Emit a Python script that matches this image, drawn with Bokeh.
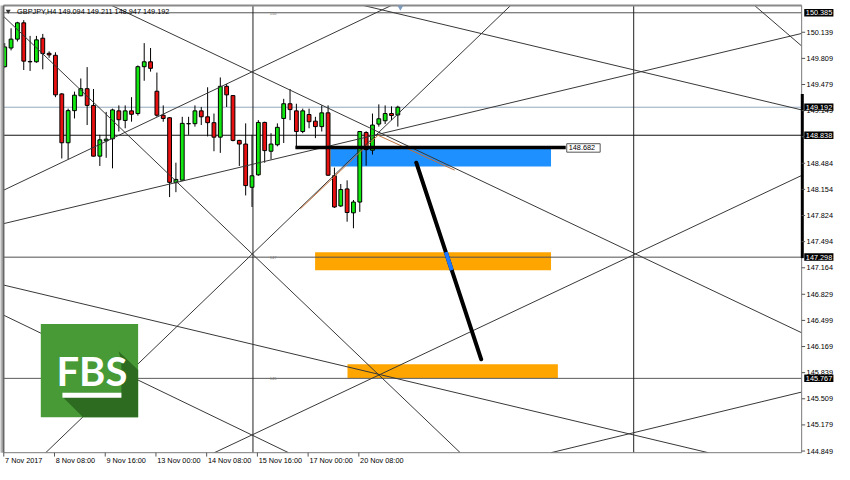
from bokeh.plotting import figure
from bokeh.models import Range1d, ColumnDataSource
from bokeh.core.properties import value
from bokeh.embed import file_html
from bokeh.resources import INLINE

# ---------------- data ----------------
opens = [149.704, 149.940, 150.052, 150.258, 149.770, 149.766, 150.064, 149.873, 149.848, 149.360,
         148.743, 149.149, 149.336, 149.426, 149.215, 148.574, 148.768, 148.793, 149.146, 149.025,
         149.146, 149.112, 149.704, 149.766, 149.394, 149.091, 149.059, 148.239, 148.271, 148.985,
         148.984, 149.146, 149.071, 148.997, 148.814, 149.456, 149.339, 148.773, 148.727, 148.181,
         148.338, 149.000, 148.636, 148.718, 149.050, 149.236, 149.146, 148.885, 149.100, 149.016,
         148.947, 149.121, 148.326, 147.945, 148.160, 147.858, 147.994, 148.872, 148.649, 148.979,
         149.021, 149.112, 149.094]
highs = [150.002, 150.189, 150.271, 150.292, 150.093, 150.093, 150.118, 149.898, 149.886, 149.370,
         149.174, 149.389, 149.555, 149.699, 149.422, 148.843, 149.133, 149.174, 149.215, 149.215,
         149.319, 149.720, 150.002, 149.940, 149.630, 149.215, 149.065, 148.491, 149.071, 149.071,
         149.215, 149.195, 149.444, 149.112, 149.568, 149.485, 149.345, 148.780, 148.988, 148.843,
         149.029, 149.009, 148.864, 148.988, 149.298, 149.422, 149.236, 149.174, 149.174, 149.071,
         149.215, 149.215, 148.429, 148.222, 148.268, 148.020, 148.885, 148.889, 149.112, 149.228,
         149.215, 149.203, 149.211]
lows = [149.692, 149.910, 150.022, 149.662, 149.650, 149.754, 149.671, 149.816, 149.319, 148.545,
        148.532, 149.050, 149.332, 148.967, 148.570, 148.450, 148.553, 148.420, 148.885, 148.926,
        149.009, 149.087, 149.526, 149.642, 149.071, 149.009, 148.057, 148.119, 148.264, 148.843,
        148.947, 148.967, 148.823, 148.636, 148.615, 149.195, 148.761, 148.450, 148.078, 147.932,
        148.326, 148.491, 148.532, 148.698, 148.740, 149.029, 148.698, 148.864, 148.926, 148.802,
        148.885, 148.326, 147.920, 147.932, 147.746, 147.663, 147.870, 148.454, 148.594, 148.947,
        148.979, 149.029, 148.947]
closes = [149.953, 150.052, 150.258, 149.774, 149.765, 150.043, 149.870, 149.853, 149.348, 148.743,
          149.149, 149.344, 149.426, 149.215, 148.574, 148.780, 148.789, 149.158, 149.034, 149.146,
          149.103, 149.704, 149.766, 149.683, 149.091, 149.050, 148.243, 148.280, 148.988, 148.983,
          149.146, 149.071, 148.997, 148.814, 149.456, 149.348, 148.773, 148.727, 148.202, 148.326,
          149.000, 148.644, 148.727, 148.938, 149.236, 149.162, 148.885, 149.146, 149.009, 148.947,
          149.121, 148.333, 147.932, 148.152, 147.862, 147.994, 148.885, 148.656, 148.967, 149.046,
          149.112, 149.087, 149.192]

time_tick_bars = [0, 8, 16, 24, 32, 40, 48, 56]
time_tick_labels = ["7 Nov 2017", "8 Nov 08:00", "9 Nov 16:00", "13 Nov 00:00",
                    "14 Nov 08:00", "15 Nov 16:00", "17 Nov 00:00", "20 Nov 08:00"]

price_ticks = [150.139, 149.809, 149.479, 149.149, 148.819, 148.484, 148.154, 147.824, 147.494,
               147.164, 146.829, 146.499, 146.169, 145.839, 145.509, 145.179, 144.849]
price_tick_labels = ["%.3f" % v for v in price_ticks]

level_prices = [150.385, 149.192, 148.838, 147.298, 145.767]
level_labels = ["150.385", "149.192", "148.838", "147.298", "145.767"]
level_colors = ["#555555", "#94a8bc", "#111111", "#505050", "#5a5a5a"]

title_text = "GBPJPY,H4  149.094 149.211 148.947 149.192"

# chart window (bar index / price)
bar_left, bar_right = -0.2, 125.69
price_top, price_bottom = 150.478, 144.828

vertical_bars = [39.15, 99.2]

# trend lines: (bar, price) -> (bar, price)
tl_x0 = [56.54, 79.80, -0.20, 16.85, 33.07, -0.20, -0.20, 86.16, 118.25, -0.20, -0.20]
tl_y0 = [150.478, 150.478, 147.721, 150.478, 144.828, 146.946, 150.341, 144.828, 150.478, 148.143, 146.566]
tl_x1 = [125.69, 6.465, 125.69, 125.69, 125.69, 110.96, 71.84, 125.69, 125.69, 60.99, 44.76]
tl_y1 = [149.158, 144.828, 150.124, 146.343, 148.330, 144.828, 144.828, 145.594, 149.965, 150.478, 144.828]

brown_x = [46.62, 58.87, 70.96]
brown_y = [147.908, 148.838, 148.397]

# zones
zone_left = [51.43, 48.95, 54.06]
zone_right = [86.16, 86.16, 87.24]
zone_top = [148.682, 147.361, 145.946]
zone_bottom = [148.442, 147.134, 145.770]
zone_colors = ["#1e90ff", "#ffa500", "#ffa500"]

target_price = 148.682
target_from, target_to = 45.84, 88.48
arrow_x = [64.91, 75.15]
arrow_y = [148.491, 146.008]

# ---------------- figure ----------------
p = figure(width=834, height=464, x_range=Range1d(-0.6667, 130.87), y_range=Range1d(144.6789, 150.5401),
           output_backend="svg", toolbar_location=None, min_border=0,
           x_axis_location=None, y_axis_location=None)
p.outline_line_color = None
p.grid.visible = False
p.background_fill_color = "white"

FONT = value("Liberation Sans")

# zones (background)
p.quad(left=zone_left, right=zone_right, top=zone_top, bottom=zone_bottom,
       fill_color=zone_colors, line_color=None)

# horizontal levels
p.segment(x0=[bar_left] * 5, x1=[bar_right] * 5, y0=level_prices, y1=level_prices,
          line_color=level_colors, line_width=1)
# vertical lines
p.segment(x0=vertical_bars, x1=vertical_bars, y0=[price_bottom] * 2, y1=[price_top] * 2,
          line_color="#222222", line_width=1)

# candles
src = ColumnDataSource(dict(
    x=list(range(len(opens))), o=opens, h=highs, l=lows, c=closes,
    top=[max(a, b) for a, b in zip(opens, closes)],
    bot=[min(a, b) for a, b in zip(opens, closes)],
    col=["#10e810" if c >= o else "#e81010" for o, c in zip(opens, closes)],
))
p.segment(x0="x", x1="x", y0="h", y1="l", source=src, line_color="black", line_width=1)
p.vbar(x="x", width=0.6, top="top", bottom="bot", source=src, fill_color="col",
       line_color="black", line_width=1)

# trend lines
p.segment(x0=tl_x0, y0=tl_y0, x1=tl_x1, y1=tl_y1, line_color="#383838", line_width=1)
p.line(brown_x, brown_y, line_color="#c0703a", line_width=1)

# target line and arrow
p.segment(x0=[target_from], x1=[target_to], y0=[target_price], y1=[target_price],
          line_color="black", line_width=3.5)
p.line(arrow_x, arrow_y, line_color="black", line_width=4, line_cap="round")
t0 = (zone_top[1] - arrow_y[0]) / (arrow_y[1] - arrow_y[0])
t1 = (zone_bottom[1] - arrow_y[0]) / (arrow_y[1] - arrow_y[0])
p.line([arrow_x[0] + t0 * (arrow_x[1] - arrow_x[0]), arrow_x[0] + t1 * (arrow_x[1] - arrow_x[0])],
       [zone_top[1], zone_bottom[1]], line_color="#1e78ff", line_width=4)
p.quad(left=[88.64], right=[93.91], top=[target_price + 0.049], bottom=[target_price - 0.058],
       fill_color="white", line_color="#555555", line_width=1)
p.text(x=[88.95], y=[target_price - 0.004], text=["%.3f" % target_price], text_font=FONT,
       text_font_size="7.3px", text_baseline="middle", text_align="left", text_color="black")

# FBS logo
p.quad(left=[5.69], right=[21.04], top=[146.455], bottom=[145.275], fill_color="#479a36", line_color=None)
p.patch(x=[17.94, 21.04, 21.04, 12.36, 9.10, 18.40, 18.40],
        y=[146.110, 145.872, 145.275, 145.275, 145.535, 145.535, 146.000],
        fill_color="#2c6b20", line_color=None)
p.text(x=[13.75], y=[145.865], text=["FBS"], text_font=value("Lato"), text_font_style="bold",
       text_font_size="40px", text_align="center", text_baseline="middle", text_color="white")
p.quad(left=[9.10], right=[18.40], top=[145.585], bottom=[145.523], fill_color="white", line_color=None)

# masks outside the chart window
p.quad(left=[-1, -1, bar_right, -1], right=[132, 132, 132, bar_left],
       top=[151, price_bottom, 151, 151], bottom=[price_top, 144.0, 144.0, 144.0],
       fill_color="white", line_color=None)
p.quad(left=[-1], right=[-0.36], top=[price_top], bottom=[price_bottom], fill_color="#b4b4b4", line_color=None)

# borders
p.segment(x0=[bar_left], x1=[bar_right], y0=[price_top], y1=[price_top], line_color="#8a8a8a", line_width=2)
p.segment(x0=[bar_left], x1=[bar_left], y0=[price_bottom], y1=[price_top], line_color="#666666", line_width=2)
p.segment(x0=[bar_right], x1=[bar_right], y0=[price_bottom], y1=[price_top], line_color="#7a7a7a", line_width=1)
p.segment(x0=[bar_left], x1=[bar_right], y0=[price_bottom], y1=[price_bottom], line_color="#7a7a7a", line_width=1)
p.segment(x0=[bar_right + 0.1], x1=[bar_right + 0.1], y0=[147.286], y1=[149.360], line_color="black", line_width=3)

# right price scale
p.segment(x0=[bar_right] * len(price_ticks), x1=[bar_right + 0.55] * len(price_ticks),
          y0=price_ticks, y1=price_ticks, line_color="#555555", line_width=1)
p.text(x=[126.47] * len(price_ticks), y=price_ticks, text=price_tick_labels, text_font=FONT,
       text_font_size="7.3px", text_baseline="middle", text_align="left", text_color="black")
p.quad(left=[126.10] * 5, right=[130.70] * 5, top=[v + 0.048 for v in level_prices],
       bottom=[v - 0.046 for v in level_prices], fill_color="black", line_color=None)
p.text(x=[126.35] * 5, y=level_prices, text=level_labels, text_font=FONT,
       text_font_size="7.3px", text_baseline="middle", text_align="left", text_color="white")

# time scale
p.segment(x0=[b - 0.15 for b in time_tick_bars], x1=[b - 0.15 for b in time_tick_bars],
          y0=[price_bottom] * 8, y1=[144.779] * 8, line_color="#555555", line_width=1)
p.text(x=[b + 0.05 for b in time_tick_bars], y=[144.735] * 8, text=time_tick_labels, text_font=FONT,
       text_font_size="7.3px", text_baseline="middle", text_align="left", text_color="black")

# title
p.scatter(x=[0.55], y=[150.405], marker="inverted_triangle", size=5, fill_color="#333333", line_color=None)
p.text(x=[1.95], y=[150.405], text=[title_text], text_font=FONT, text_font_size="7.3px",
       text_baseline="middle", text_align="left", text_color="black")
p.scatter(x=[62.4], y=[150.455], marker="inverted_triangle", size=6, fill_color="#7f9cbf", line_color=None)

# tiny level notes near the vertical line
p.text(x=[41.8, 41.8, 41.8], y=[150.38, 147.29, 145.76], text=["150", "147", "145"], text_font=FONT,
       text_font_size="4px", text_baseline="middle", text_align="left", text_color="#777777")

open("out.html", "w").write(file_html(p, INLINE))
